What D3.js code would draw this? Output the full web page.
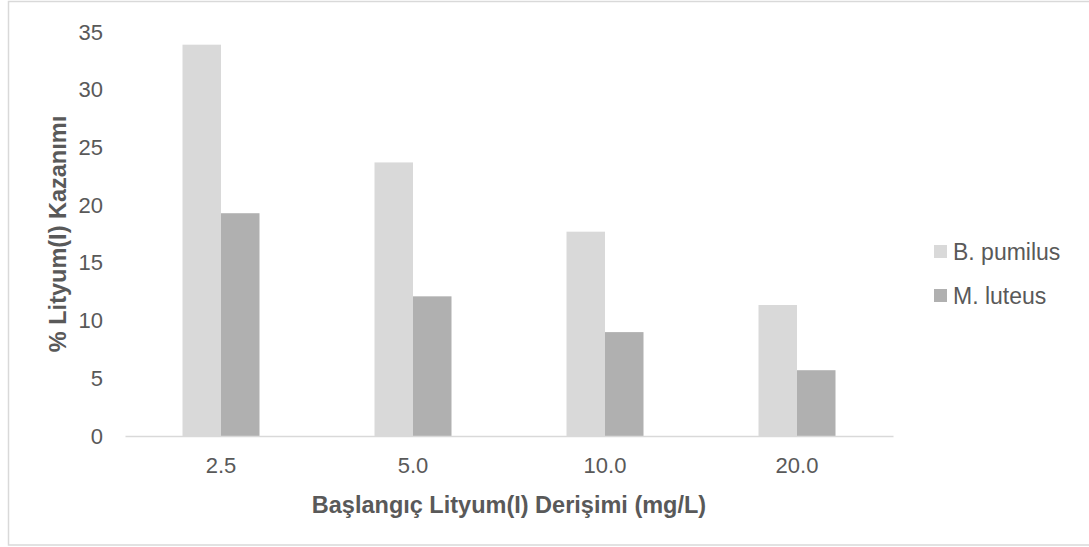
<!DOCTYPE html>
<html>
<head>
<meta charset="utf-8">
<script src="https://cdn.jsdelivr.net/npm/d3@7"></script>
<style>
  html, body { margin: 0; padding: 0; background: #fff; }
  svg { display: block; }
  text { font-family: "Liberation Sans", Arial, sans-serif; fill: #595959; }
</style>
</head>
<body>
<svg id="chart" width="1089" height="547"></svg>
<script>
// Initial lithium concentration (mg/L)
const categories = ["2.5", "5.0", "10.0", "20.0"];
const seriesNames = ["B. pumilus", "M. luteus"];
// % lithium recovery per strain
const pumilus = [33.9, 23.7, 17.7, 11.35];
const luteus = [19.3, 12.1, 9.0, 5.7];
const yTicks = [0, 5, 10, 15, 20, 25, 30, 35];
const colors = ["#d9d9d9", "#b0b0b0"];

const svg = d3.select("#chart");
const plot = { left: 125, right: 893, top: 32, bottom: 436 };

// chart frame
svg.append("rect")
  .attr("x", 8.5).attr("y", 1.5)
  .attr("width", 1090).attr("height", 543.5)
  .attr("fill", "#fff").attr("stroke", "#d9d9d9").attr("stroke-width", 1.5);

const x0 = d3.scaleBand().domain(categories).range([plot.left, plot.right]);
const groupWidth = 77;
const x1 = d3.scaleBand().domain(seriesNames)
  .range([(x0.bandwidth() - groupWidth) / 2, (x0.bandwidth() + groupWidth) / 2]);
const y = d3.scaleLinear().domain([0, 35]).range([plot.bottom, plot.top]);

const rows = categories.map((c, i) => ({ cat: c, vals: [pumilus[i], luteus[i]] }));

const groups = svg.append("g").selectAll("g").data(rows).join("g")
  .attr("transform", d => `translate(${x0(d.cat)},0)`);
groups.selectAll("rect")
  .data(d => d.vals.map((v, j) => ({ name: seriesNames[j], v, j })))
  .join("rect")
  .attr("x", d => x1(d.name))
  .attr("width", x1.bandwidth())
  .attr("y", d => y(d.v))
  .attr("height", d => y(0) - y(d.v))
  .attr("fill", d => colors[d.j]);

// y axis (labels only)
const yAxis = svg.append("g")
  .attr("transform", `translate(${plot.left - 22},0)`)
  .call(d3.axisLeft(y).tickValues(yTicks).tickSize(0).tickPadding(0).tickFormat(d3.format("d")));
yAxis.select(".domain").remove();
yAxis.selectAll("text").attr("font-size", 22).attr("fill", "#595959")
  .style("font-family", "Liberation Sans, Arial, sans-serif");

// x axis
const xAxis = svg.append("g")
  .attr("transform", `translate(0,${plot.bottom})`)
  .call(d3.axisBottom(x0).tickSize(0).tickPadding(21));
xAxis.select(".domain").attr("stroke", "#d9d9d9").attr("stroke-width", 1.5);
xAxis.selectAll("text").attr("font-size", 22).attr("fill", "#595959")
  .style("font-family", "Liberation Sans, Arial, sans-serif");

// axis titles
svg.append("text")
  .attr("x", (plot.left + plot.right) / 2).attr("y", 505).attr("dy", "0.35em")
  .attr("text-anchor", "middle")
  .attr("font-size", 23.5).attr("font-weight", "bold")
  .text("Başlangıç Lityum(I) Derişimi (mg/L)");

svg.append("text")
  .attr("transform", `translate(58,${(plot.top + plot.bottom) / 2}) rotate(-90)`)
  .attr("dy", "0.35em")
  .attr("text-anchor", "middle")
  .attr("font-size", 23.5).attr("font-weight", "bold")
  .text("% Lityum(I) Kazanımı");

// legend
const legend = svg.append("g").attr("transform", "translate(934,245)");
const items = legend.selectAll("g").data(seriesNames).join("g")
  .attr("transform", (d, i) => `translate(0,${i * 44})`);
items.append("rect").attr("width", 13).attr("height", 13).attr("fill", (d, i) => colors[i]);
items.append("text").attr("x", 19).attr("y", 6.5).attr("dy", "0.35em")
  .attr("font-size", 23).text(d => d);
</script>
</body>
</html>
